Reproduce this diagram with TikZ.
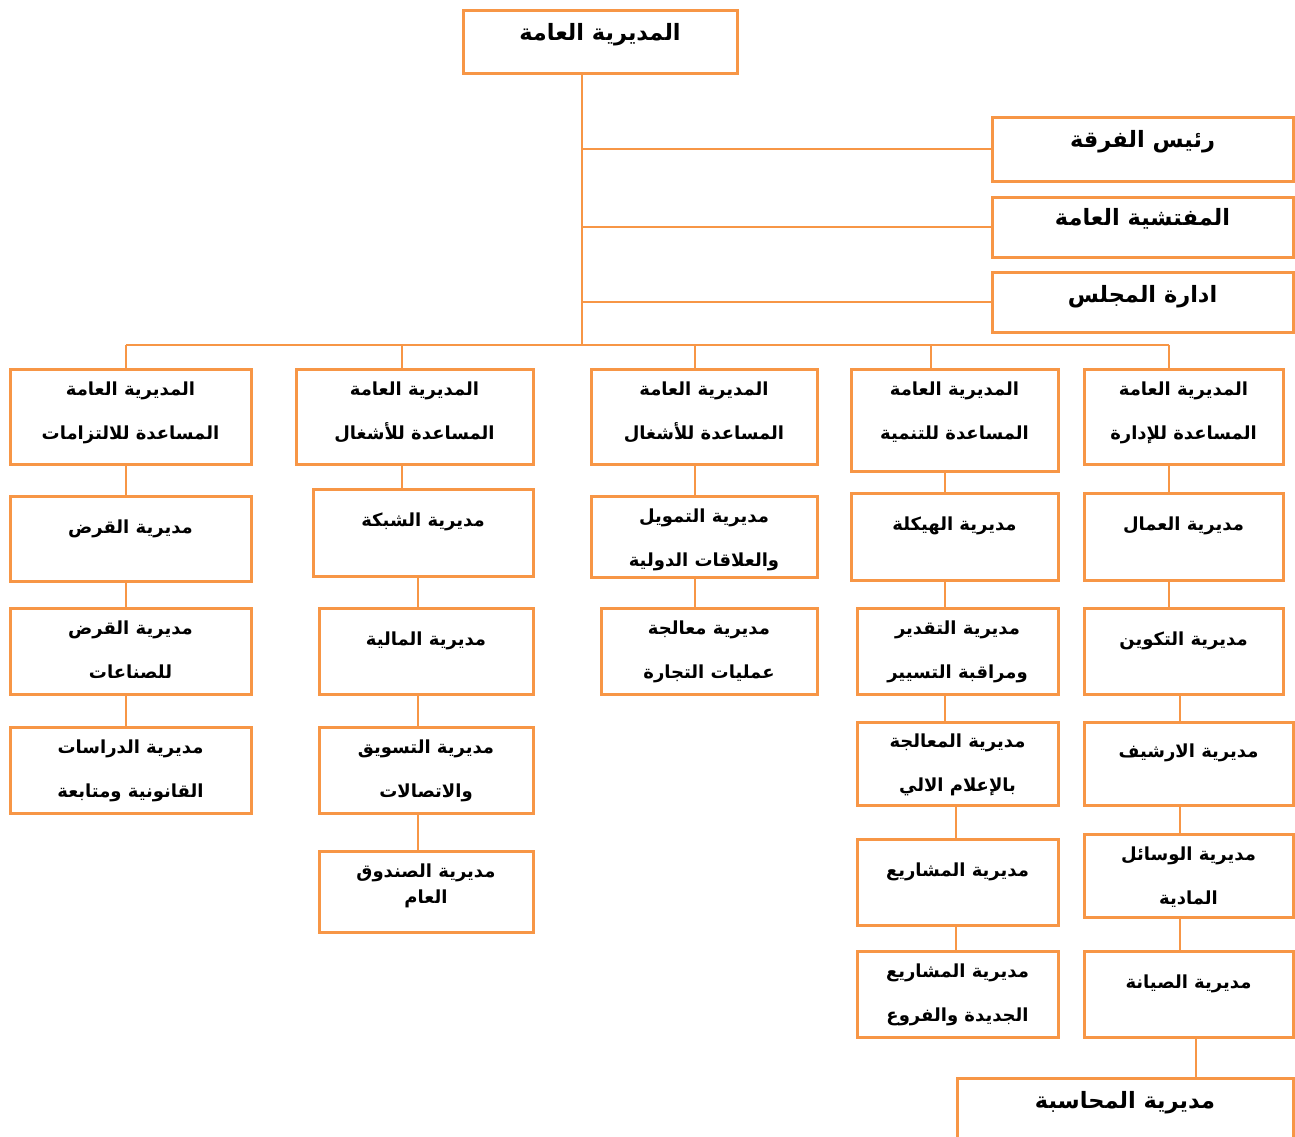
\documentclass[tikz,border=0pt]{standalone}
\usepackage{fontspec}
\usepackage{tikz}
\usetikzlibrary{positioning}
\TeXXeTstate=1
\newfontfamily\arabicfont[Script=Arabic]{DejaVu Sans}
\definecolor{orgline}{RGB}{247,150,70}
\newcommand{\rl}[1]{\beginR#1\endR}

\begin{document}
\begin{tikzpicture}[x=1pt, y=-1pt,
	box/.style={draw=orgline, line width=3pt, fill=white, rectangle, inner sep=0pt},
	link/.style={draw=orgline, line width=2pt},
	unittxt/.style={font=\arabicfont\bfseries\fontsize{18}{44}\selectfont, align=center, inner sep=0pt},
	headtxt/.style={font=\arabicfont\bfseries\fontsize{22.5}{26}\selectfont, inner sep=0pt}]
	
	\fill[white] (0,0) rectangle (1295,1136);
	\useasboundingbox (0,0) rectangle (1295,1136);
	
	\node [box, minimum width=274, minimum height=63] (top) at (600,41.5) {};
	\node [headtxt, below=15pt of top.north] (topt) {\rl{المديرية العامة}};
	
	\node [box, minimum width=301, minimum height=64] (chief) at (1142.5,149) {};
	\node [headtxt, below=15pt of chief.north] (chieft) {\rl{رئيس الفرقة}};
	\node [box, minimum width=301, minimum height=60] (insp) at (1142.5,227) {};
	\node [headtxt, below=13pt of insp.north] (inspt) {\rl{المفتشية العامة}};
	\node [box, minimum width=301, minimum height=60] (board) at (1142.5,302) {};
	\node [headtxt, below=15pt of board.north] (boardt) {\rl{ادارة المجلس}};
	
	% first column
	\node [box, minimum width=241, minimum height=95] (adm1) at (130.5,416.5) {};
	\node [unittxt, below=14pt of adm1.north] (adm1t) {\rl{المديرية العامة}\\\rl{المساعدة للالتزامات}};
	\node [box, minimum width=241, minimum height=85] (loan) at (130.5,538.5) {};
	\node [unittxt, below=25pt of loan.north] (loant) {\rl{مديرية القرض}};
	\node [box, minimum width=241, minimum height=86] (indloan) at (130.5,651) {};
	\node [unittxt, below=14pt of indloan.north] (indloant) {\rl{مديرية القرض}\\\rl{للصناعات}};
	\node [box, minimum width=241, minimum height=86] (studies) at (130.5,770) {};
	\node [unittxt, below=14pt of studies.north] (studiest) {\rl{مديرية الدراسات}\\\rl{القانونية ومتابعة}};
	
	% second column
	\node [box, minimum width=237, minimum height=95] (adm2) at (414.5,416.5) {};
	\node [unittxt, below=14pt of adm2.north] (adm2t) {\rl{المديرية العامة}\\\rl{المساعدة للأشغال}};
	\node [box, minimum width=220, minimum height=87] (net) at (423,532.5) {};
	\node [unittxt, below=25pt of net.north] (nett) {\rl{مديرية الشبكة}};
	\node [box, minimum width=214, minimum height=86] (fin) at (426,651) {};
	\node [unittxt, below=25pt of fin.north] (fint) {\rl{مديرية المالية}};
	\node [box, minimum width=214, minimum height=86] (mkt) at (426,770) {};
	\node [unittxt, below=14pt of mkt.north] (mktt) {\rl{مديرية التسويق}\\\rl{والاتصالات}};
	\node [box, minimum width=214, minimum height=81] (fund) at (426,891.5) {};
	\node [unittxt, below=14pt of fund.north] (fundt) {\rl{مديرية الصندوق}\\[-18pt]\rl{العام}};
	
	% third column
	\node [box, minimum width=226, minimum height=95] (adm3) at (704,416.5) {};
	\node [unittxt, below=14pt of adm3.north] (adm3t) {\rl{المديرية العامة}\\\rl{المساعدة للأشغال}};
	\node [box, minimum width=226, minimum height=81] (intl) at (704,536.5) {};
	\node [unittxt, below=14pt of intl.north] (intlt) {\rl{مديرية التمويل}\\\rl{والعلاقات الدولية}};
	\node [box, minimum width=216, minimum height=86] (trade) at (709,651) {};
	\node [unittxt, below=14pt of trade.north] (tradet) {\rl{مديرية معالجة}\\\rl{عمليات التجارة}};
	
	% fourth column
	\node [box, minimum width=207, minimum height=102] (adm4) at (954.5,420) {};
	\node [unittxt, below=14pt of adm4.north] (adm4t) {\rl{المديرية العامة}\\\rl{المساعدة للتنمية}};
	\node [box, minimum width=207, minimum height=87] (struct) at (954.5,536.5) {};
	\node [unittxt, below=25pt of struct.north] (structt) {\rl{مديرية الهيكلة}};
	\node [box, minimum width=201, minimum height=86] (est) at (957.5,651) {};
	\node [unittxt, below=14pt of est.north] (estt) {\rl{مديرية التقدير}\\\rl{ومراقبة التسيير}};
	\node [box, minimum width=201, minimum height=83] (proc) at (957.5,763.5) {};
	\node [unittxt, below=13pt of proc.north] (proct) {\rl{مديرية المعالجة}\\\rl{بالإعلام الالي}};
	\node [box, minimum width=201, minimum height=86] (proj) at (957.5,882) {};
	\node [unittxt, below=25pt of proj.north] (projt) {\rl{مديرية المشاريع}};
	\node [box, minimum width=201, minimum height=86] (newproj) at (957.5,994) {};
	\node [unittxt, below=14pt of newproj.north] (newprojt) {\rl{مديرية المشاريع}\\\rl{الجديدة والفروع}};
	
	% fifth column
	\node [box, minimum width=199, minimum height=95] (adm5) at (1183.5,416.5) {};
	\node [unittxt, below=14pt of adm5.north] (adm5t) {\rl{المديرية العامة}\\\rl{المساعدة للإدارة}};
	\node [box, minimum width=199, minimum height=87] (work) at (1183.5,536.5) {};
	\node [unittxt, below=25pt of work.north] (workt) {\rl{مديرية العمال}};
	\node [box, minimum width=199, minimum height=86] (train) at (1183.5,651) {};
	\node [unittxt, below=25pt of train.north] (traint) {\rl{مديرية التكوين}};
	\node [box, minimum width=209, minimum height=83] (arch) at (1188.5,763.5) {};
	\node [unittxt, below=23pt of arch.north] (archt) {\rl{مديرية الارشيف}};
	\node [box, minimum width=209, minimum height=83] (means) at (1188.5,875.5) {};
	\node [unittxt, below=14pt of means.north] (meanst) {\rl{مديرية الوسائل}\\\rl{المادية}};
	\node [box, minimum width=209, minimum height=86] (maint) at (1188.5,994) {};
	\node [unittxt, below=25pt of maint.north] (maintt) {\rl{مديرية الصيانة}};
	\node [box, minimum width=336, minimum height=72] (acc) at (1125,1114) {};
	\node [headtxt, below=15pt of acc.north] (acct) {\rl{مديرية المحاسبة}};
	
	% connectors
	\coordinate (trunk) at (582,345);
	\coordinate (d1) at (126,345);
	\coordinate (d2) at (402,345);
	\coordinate (d3) at (695,345);
	\coordinate (d4) at (931,345);
	\coordinate (d5) at (1169,345);
	\coordinate (l2) at (418,0);
	\coordinate (l4) at (945,0);
	\coordinate (m4) at (956,0);
	\coordinate (m5) at (1180,0);
	\coordinate (n5) at (1196,0);
	
	\draw [link] (top.south -| trunk) -- (trunk);
	\draw [link] (trunk |- chief.west) -- (chief.west);
	\draw [link] (trunk |- insp.west) -- (insp.west);
	\draw [link] (trunk |- board.west) -- (board.west);
	\draw [link] (d1) -- (d5);
	\draw [link] (d1) -- (d1 |- adm1.north);
	\draw [link] (d2) -- (d2 |- adm2.north);
	\draw [link] (d3) -- (d3 |- adm3.north);
	\draw [link] (d4) -- (d4 |- adm4.north);
	\draw [link] (d5) -- (d5 |- adm5.north);
	
	\draw [link] (adm1.south -| d1) -- (loan.north -| d1);
	\draw [link] (loan.south -| d1) -- (indloan.north -| d1);
	\draw [link] (indloan.south -| d1) -- (studies.north -| d1);
	
	\draw [link] (adm2.south -| d2) -- (net.north -| d2);
	\draw [link] (net.south -| l2) -- (fin.north -| l2);
	\draw [link] (fin.south -| l2) -- (mkt.north -| l2);
	\draw [link] (mkt.south -| l2) -- (fund.north -| l2);
	
	\draw [link] (adm3.south -| d3) -- (intl.north -| d3);
	\draw [link] (intl.south -| d3) -- (trade.north -| d3);
	
	\draw [link] (adm4.south -| l4) -- (struct.north -| l4);
	\draw [link] (struct.south -| l4) -- (est.north -| l4);
	\draw [link] (est.south -| l4) -- (proc.north -| l4);
	\draw [link] (proc.south -| m4) -- (proj.north -| m4);
	\draw [link] (proj.south -| m4) -- (newproj.north -| m4);
	
	\draw [link] (adm5.south -| d5) -- (work.north -| d5);
	\draw [link] (work.south -| d5) -- (train.north -| d5);
	\draw [link] (train.south -| m5) -- (arch.north -| m5);
	\draw [link] (arch.south -| m5) -- (means.north -| m5);
	\draw [link] (means.south -| m5) -- (maint.north -| m5);
	\draw [link] (maint.south -| n5) -- (acc.north -| n5);
	
\end{tikzpicture}
\end{document}
